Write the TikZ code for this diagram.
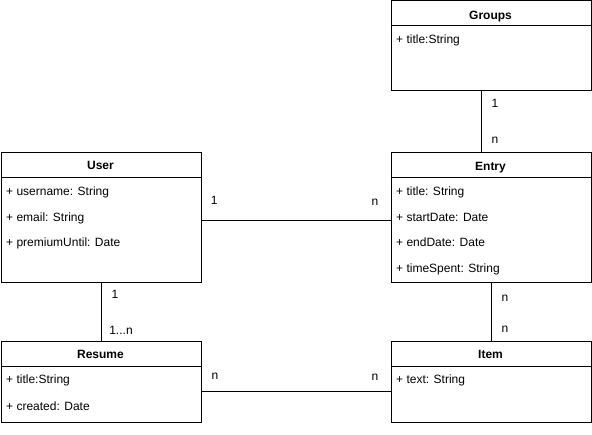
\documentclass[tikz,border=0pt]{standalone}
\usepackage{fontspec}
\setmainfont{Liberation Sans}
\begin{document}
\begin{tikzpicture}[x=1pt,y=-1pt,
  every node/.style={font=\fontsize{12}{14}\selectfont},
  cls/.style={draw, line width=1pt, inner sep=0, anchor=north west, minimum width=200pt},
  hdr/.style={font=\fontsize{12}{14}\selectfont\bfseries, inner sep=0, anchor=base},
  attr/.style={inner sep=0, anchor=base west},
  lbl/.style={inner sep=0, anchor=base},
  conn/.style={line width=1pt},
  sep/.style={line width=1pt}]
\useasboundingbox (0,0) rectangle (592,435);

% class boxes
\node[cls, minimum height=130pt] (user) at (0.5,152.5) {};
\node[cls, minimum height=90pt] (groups) at (390.5,0.5) {};
\node[cls, minimum height=130pt] (entry) at (390.5,152.5) {};
\node[cls, minimum height=81.5pt] (resume) at (0.5,341) {};
\node[cls, minimum height=81.5pt] (item) at (390.5,341) {};

% header separators
\foreach \c in {user,groups,entry,resume,item}
  \draw[sep] ([yshift=-25.5pt]\c.north west) -- ([yshift=-25.5pt]\c.north east);

% headers
\node[hdr] (userh) at (100.5,170) {User};
\node[hdr] (groupsh) at (490.5,19.3) {Groups};
\node[hdr] (entryh) at (490.5,170.3) {Entry};
\node[hdr] (resumeh) at (100.5,358.3) {Resume};
\node[hdr] (itemh) at (490.5,358.3) {Item};

% attributes
\node[attr] (u1) at (6,195.5) {+ username: String};
\node[attr] (u2) at (6,221.3) {+ email: String};
\node[attr] (u3) at (6,247) {+ premiumUntil: Date};
\node[attr] (g1) at (396,43.6) {+ title:String};
\node[attr] (e1) at (396,195.5) {+ title: String};
\node[attr] (e2) at (396,221.3) {+ startDate: Date};
\node[attr] (e3) at (396,247) {+ endDate: Date};
\node[attr] (e4) at (396,272.7) {+ timeSpent: String};
\node[attr] (r1) at (6,383.6) {+ title:String};
\node[attr] (r2) at (6,410.3) {+ created: Date};
\node[attr] (i1) at (396,383.6) {+ text: String};

% connectors
\draw[conn] ([xshift=-10pt]groups.south) -- ([xshift=-10pt]entry.north);
\draw[conn] (user.south) -- (resume.north);
\draw[conn] (entry.south) -- (item.north);
\draw[conn] ([yshift=-2.5pt]user.east) -- ([yshift=-2.5pt]entry.west);
\draw[conn] ([yshift=-9.25pt]resume.east) -- ([yshift=-9.25pt]item.west);

% multiplicity labels
\node[lbl] (lge1) at (495,107.3) {1};
\node[lbl] (lge2) at (495,143.1) {n};
\node[lbl] (lur1) at (115,298.3) {1};
\node[lbl] (lur2) at (121,335) {1...n};
\node[lbl] (lei1) at (505,301.4) {n};
\node[lbl] (lei2) at (505,332.4) {n};
\node[lbl] (lue1) at (214.3,204.3) {1};
\node[lbl] (lue2) at (375,205.1) {n};
\node[lbl] (lri1) at (215,379.8) {n};
\node[lbl] (lri2) at (375,380.1) {n};
\end{tikzpicture}
\end{document}
